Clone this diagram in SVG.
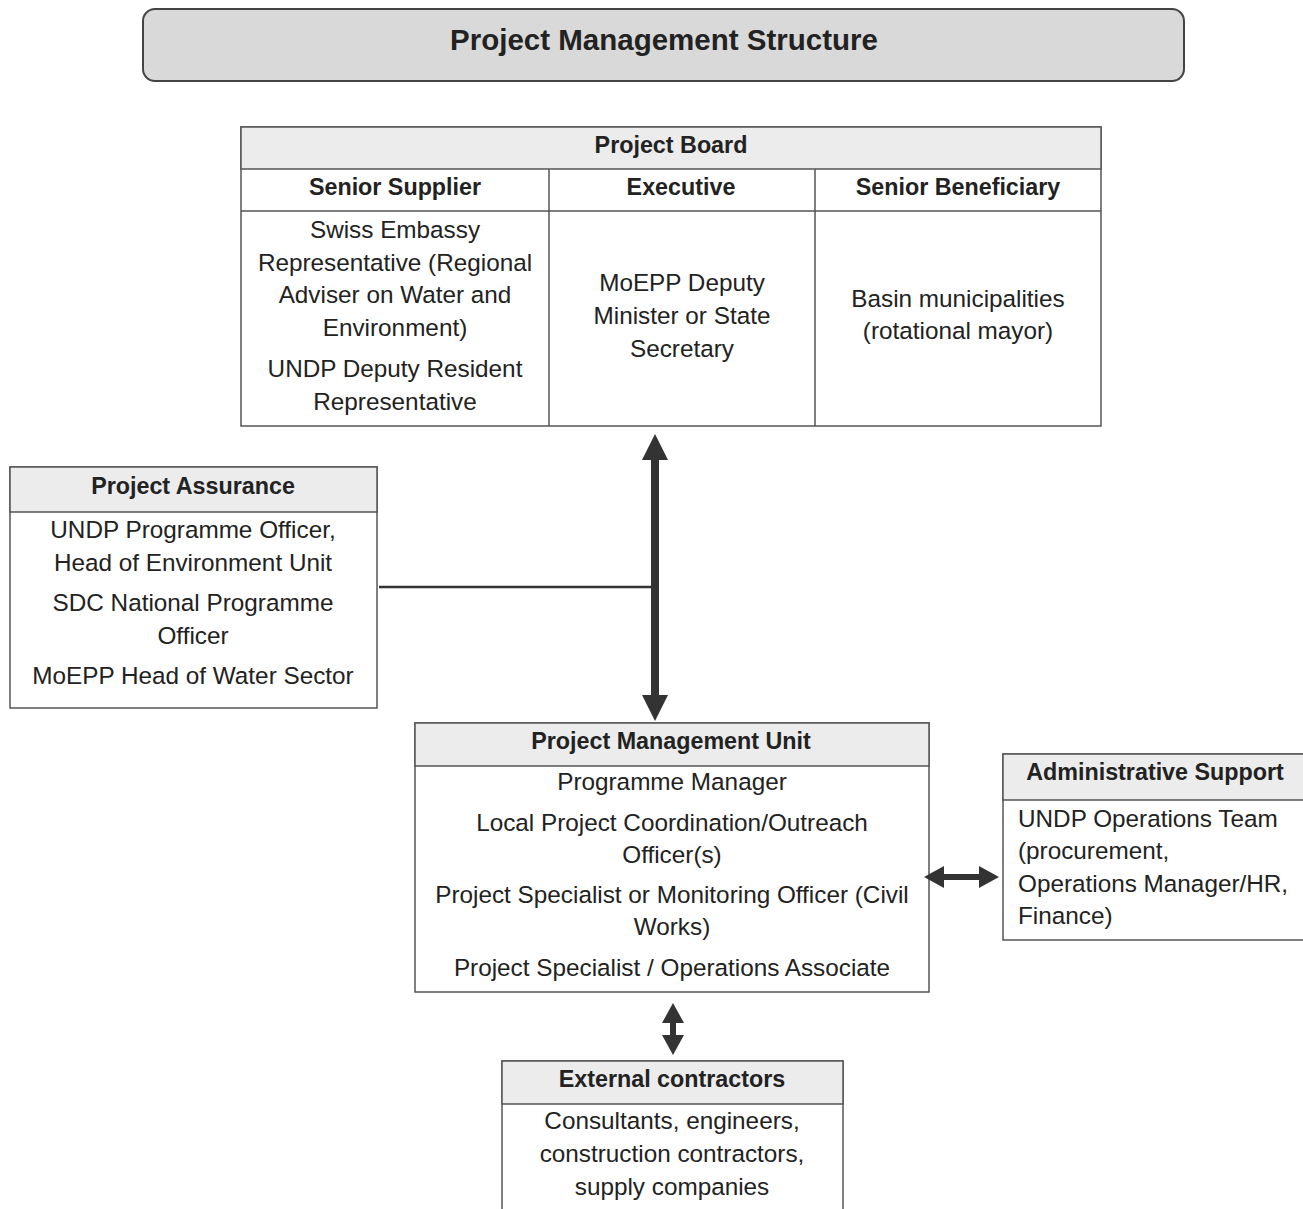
<svg xmlns="http://www.w3.org/2000/svg" width="1303" height="1209" viewBox="0 0 1303 1209">
<defs>
<style>
.box{fill:#ffffff;stroke:#555555;stroke-width:1.5}
.hdr{fill:#ececec;stroke:#555555;stroke-width:1.5}
.div{stroke:#555555;stroke-width:1.5;fill:none}
.t{font-family:"Liberation Sans",Arial,sans-serif;font-size:24.3px;fill:#222222}
.b{font-family:"Liberation Sans",Arial,sans-serif;font-size:23.3px;font-weight:bold;fill:#222222}
.c{text-anchor:middle}
.title{font-family:"Liberation Sans",Arial,sans-serif;font-size:29.5px;font-weight:bold;fill:#222222;text-anchor:middle}
.arrowBig{stroke:#333333;stroke-width:8;fill:none}
.arrowSm{stroke:#333333;stroke-width:6;fill:none}
.line{stroke:#333333;stroke-width:2.5;fill:none}
</style>
<marker id="headBig" viewBox="0 0 26 26" markerUnits="userSpaceOnUse" markerWidth="26" markerHeight="26" refX="8" refY="13" orient="auto-start-reverse"><path d="M0,0 L26,13 L0,26 z" fill="#333333"/></marker>
<marker id="headSm" viewBox="0 0 20 22" markerUnits="userSpaceOnUse" markerWidth="20" markerHeight="22" refX="6" refY="11" orient="auto-start-reverse"><path d="M0,0 L20,11 L0,22 z" fill="#333333"/></marker>
</defs>
<rect width="1303" height="1209" fill="#ffffff"/>

<g id="title">
<rect x="143" y="9" width="1041" height="72" rx="12" ry="12" fill="#d9d9d9" stroke="#444444" stroke-width="2"/>
<text class="title" x="664" y="50">Project Management Structure</text>
</g>

<g id="project-board">
<rect class="box" x="241" y="127" width="860" height="299"/>
<rect class="hdr" x="241" y="127" width="860" height="42"/>
<line class="div" x1="241" y1="211" x2="1101" y2="211"/>
<line class="div" x1="549" y1="169" x2="549" y2="426"/>
<line class="div" x1="815" y1="169" x2="815" y2="426"/>
<text class="b c" x="671" y="153">Project Board</text>
<text class="b c" x="395" y="195">Senior Supplier</text>
<text class="b c" x="681" y="195">Executive</text>
<text class="b c" x="958" y="195">Senior Beneficiary</text>
<text class="t c" x="395" y="238">Swiss Embassy</text>
<text class="t c" x="395" y="271">Representative (Regional</text>
<text class="t c" x="395" y="303">Adviser on Water and</text>
<text class="t c" x="395" y="336">Environment)</text>
<text class="t c" x="395" y="377">UNDP Deputy Resident</text>
<text class="t c" x="395" y="410">Representative</text>
<text class="t c" x="682" y="291">MoEPP Deputy</text>
<text class="t c" x="682" y="324">Minister or State</text>
<text class="t c" x="682" y="357">Secretary</text>
<text class="t c" x="958" y="307">Basin municipalities</text>
<text class="t c" x="958" y="339">(rotational mayor)</text>
</g>

<g id="project-assurance">
<rect class="box" x="10" y="467" width="367" height="241"/>
<rect class="hdr" x="10" y="467" width="367" height="45"/>
<text class="b c" x="193" y="494">Project Assurance</text>
<text class="t c" x="193" y="538">UNDP Programme Officer,</text>
<text class="t c" x="193" y="571">Head of Environment Unit</text>
<text class="t c" x="193" y="611">SDC National Programme</text>
<text class="t c" x="193" y="644">Officer</text>
<text class="t c" x="193" y="684">MoEPP Head of Water Sector</text>
</g>

<g id="project-management-unit">
<rect class="box" x="415" y="723" width="514" height="269"/>
<rect class="hdr" x="415" y="723" width="514" height="43"/>
<text class="b c" x="671" y="749">Project Management Unit</text>
<text class="t c" x="672" y="790">Programme Manager</text>
<text class="t c" x="672" y="831">Local Project Coordination/Outreach</text>
<text class="t c" x="672" y="863">Officer(s)</text>
<text class="t c" x="672" y="903">Project Specialist or Monitoring Officer (Civil</text>
<text class="t c" x="672" y="935">Works)</text>
<text class="t c" x="672" y="976">Project Specialist / Operations Associate</text>
</g>

<g id="administrative-support">
<rect class="box" x="1003" y="754" width="310" height="186"/>
<rect class="hdr" x="1003" y="754" width="310" height="46"/>
<text class="b c" x="1155" y="780">Administrative Support</text>
<text class="t" x="1018" y="827">UNDP Operations Team</text>
<text class="t" x="1018" y="859">(procurement,</text>
<text class="t" x="1018" y="892">Operations Manager/HR,</text>
<text class="t" x="1018" y="924">Finance)</text>
</g>

<g id="external-contractors">
<rect class="box" x="502" y="1061" width="341" height="160"/>
<rect class="hdr" x="502" y="1061" width="341" height="43"/>
<text class="b c" x="672" y="1087">External contractors</text>
<text class="t c" x="672" y="1129">Consultants, engineers,</text>
<text class="t c" x="672" y="1162">construction contractors,</text>
<text class="t c" x="672" y="1195">supply companies</text>
</g>

<g id="connectors">
<line class="line" x1="379" y1="587" x2="652" y2="587"/>
<line class="arrowBig" x1="655" y1="452" x2="655" y2="703" marker-start="url(#headBig)" marker-end="url(#headBig)"/>
<line class="arrowSm" x1="938" y1="877" x2="985" y2="877" marker-start="url(#headSm)" marker-end="url(#headSm)"/>
<line class="arrowSm" x1="673" y1="1017" x2="673" y2="1041" marker-start="url(#headSm)" marker-end="url(#headSm)"/>
</g>
</svg>
